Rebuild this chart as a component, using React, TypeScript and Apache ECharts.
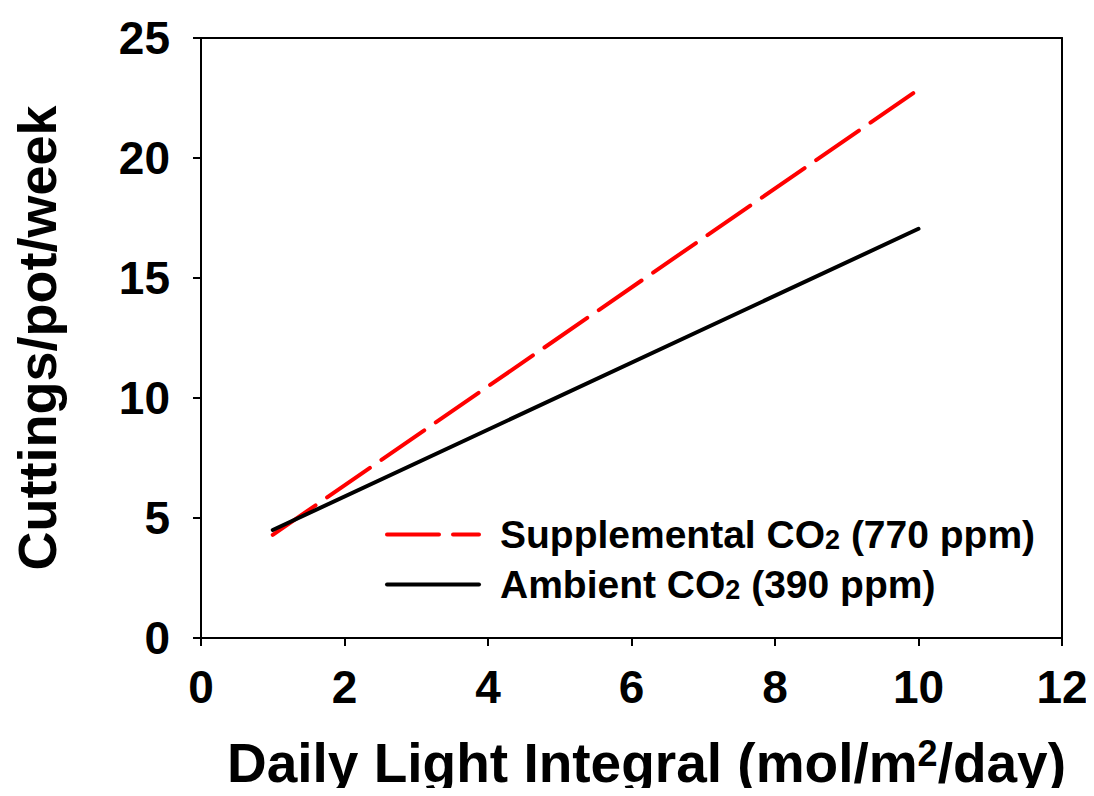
import React, { useEffect, useRef } from "react";
import * as echarts from "echarts";

const xTicks = [0, 2, 4, 6, 8, 10, 12];
const supplementalPoints: [number, number][] = [[1, 4.3], [10, 22.85]];
const ambientPoints: [number, number][] = [[1, 4.5], [10, 17.05]];
const seriesNames = ["Supplemental CO2 (770 ppm)", "Ambient CO2 (390 ppm)"];

const FONT = "'Liberation Sans', Arial, Helvetica, sans-serif";

export default function App() {
  const ref = useRef<HTMLDivElement>(null);
  useEffect(() => {
    if (!ref.current) return;
    const chart = echarts.init(ref.current, undefined, { renderer: "svg" });
    const axisLine = { show: true, onZero: false, lineStyle: { color: "#000", width: 2 } };
    chart.setOption({
      animation: false,
      backgroundColor: "#fff",
      grid: { left: 201, right: 32, top: 38, bottom: 154, containLabel: false },
      legend: {
        orient: "vertical",
        left: 380,
        top: 510,
        itemWidth: 92,
        itemHeight: 6,
        itemGap: 11,
        data: seriesNames,
        itemStyle: { opacity: 0, borderWidth: 0 },
        lineStyle: { width: 4 },
        textStyle: {
          fontFamily: FONT,
          fontWeight: "bold",
          fontSize: 39,
          color: "#000",
          padding: [0, 0, 0, 16],
          rich: {
            a: { fontFamily: FONT, fontWeight: "bold", fontSize: 39, color: "#000", lineHeight: 40 },
            sub: { fontFamily: FONT, fontWeight: "bold", fontSize: 27, color: "#000", padding: [10, 0, 0, 0], lineHeight: 40 },
          },
        },
        formatter: (name: string) => {
          const parts = name.split("CO2");
          return `{a|${parts[0]}CO}{sub|2}{a|${parts[1]}}`;
        },
      },
      xAxis: [
        {
          type: "value",
          min: 0,
          max: 12,
          interval: 2,
          axisLine,
          axisTick: { show: true, inside: false, length: 8, lineStyle: { color: "#000", width: 2 } },
          splitLine: { show: false },
          axisLabel: {
            fontFamily: FONT,
            fontWeight: "bold",
            fontSize: 46,
            color: "#000",
            margin: 26,
            formatter: (v: number) => (xTicks.includes(v) ? String(v) : ""),
          },
          name: "{a|Daily Light Integral (mol/m}{sup|2}{a|/day)}",
          nameLocation: "middle",
          nameGap: 94,
          nameTextStyle: {
            padding: [0, 0, 0, 30],
            rich: {
              a: { fontFamily: FONT, fontWeight: "bold", fontSize: 55, color: "#000", lineHeight: 62 },
              sup: { fontFamily: FONT, fontWeight: "bold", fontSize: 36, color: "#000", padding: [0, 0, 20, 0], lineHeight: 62 },
            },
          },
        },
        {
          type: "value",
          position: "top",
          min: 0,
          max: 12,
          axisLine,
          axisTick: { show: false },
          axisLabel: { show: false },
          splitLine: { show: false },
        },
      ],
      yAxis: [
        {
          type: "value",
          min: 0,
          max: 25,
          interval: 5,
          axisLine,
          axisTick: { show: true, inside: false, length: 8, lineStyle: { color: "#000", width: 2 } },
          splitLine: { show: false },
          axisLabel: {
            fontFamily: FONT,
            fontWeight: "bold",
            fontSize: 46,
            color: "#000",
            margin: 31,
          },
          name: "Cuttings/pot/week",
          nameLocation: "middle",
          nameRotate: 90,
          nameGap: 137,
          nameTextStyle: { fontFamily: FONT, fontWeight: "bold", fontSize: 54, color: "#000" },
        },
        {
          type: "value",
          position: "right",
          min: 0,
          max: 25,
          axisLine,
          axisTick: { show: false },
          axisLabel: { show: false },
          splitLine: { show: false },
        },
      ],
      series: [
        {
          name: seriesNames[0],
          type: "line",
          data: supplementalPoints,
          showSymbol: false,
          symbol: "none",
          lineStyle: { color: "#ff0000", width: 4, type: [52, 14], cap: "round" },
          itemStyle: { color: "#ff0000" },
        },
        {
          name: seriesNames[1],
          type: "line",
          data: ambientPoints,
          showSymbol: false,
          symbol: "none",
          lineStyle: { color: "#000", width: 4, cap: "round" },
          itemStyle: { color: "#000" },
        },
      ],
    });
    return () => chart.dispose();
  }, []);
  return <div ref={ref} style={{ width: 1094, height: 796, margin: -8 }} />;
}
